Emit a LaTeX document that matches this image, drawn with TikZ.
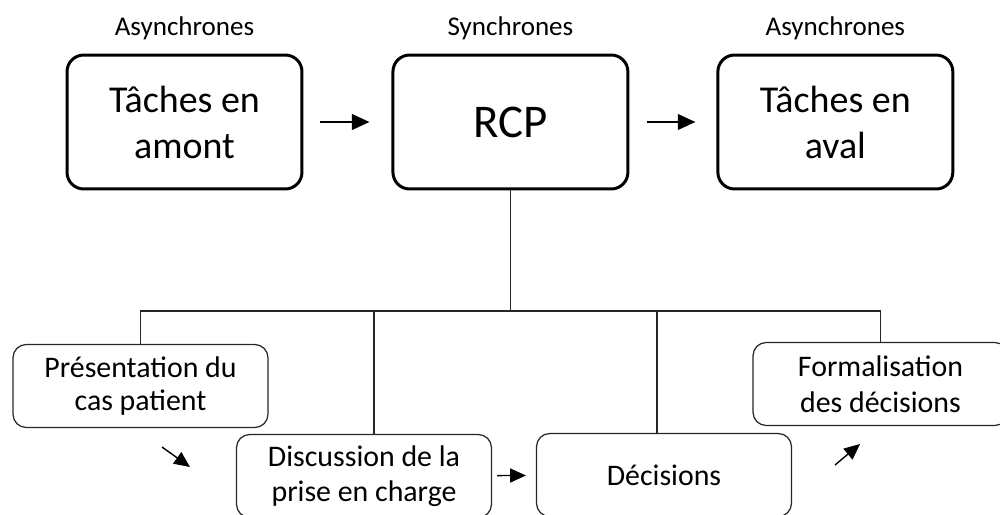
\documentclass[tikz,border=0pt]{standalone}
\usepackage{fontspec}
\setmainfont{Carlito}
\usetikzlibrary{positioning, arrows.meta}

\tikzset{
  topbox/.style={draw, line width=1.7pt, rounded corners=9.5pt, minimum width=4.7cm,
    minimum height=2.68cm, align=center, font=\fontsize{21.6}{26.2}\selectfont},
  subbox/.style={draw, black!85, text=black, line width=0.7pt, rounded corners=7.5pt,
    minimum width=5.1cm, minimum height=1.66cm, align=center, font=\fontsize{17}{19}\selectfont},
  lab/.style={font=\fontsize{15.4}{18}\selectfont},
  link/.style={black!85, line width=0.6pt},
  go/.style={-{Triangle[length=10pt,width=9pt]}, line width=0.8pt},
  small/.style={-{Triangle[length=9pt,width=8pt]}, line width=0.8pt}
}

\begin{document}
\begin{tikzpicture}[x=0.02cm, y=-0.02cm, node distance=1.76cm]
    \useasboundingbox (0,0) rectangle (1000,514);

    %the three phases
    \node[topbox] (amont) at (184.5,122) {Tâches en\\amont};
    \node[topbox, font=\fontsize{26.7}{30}\selectfont] (rcp) [right=of amont] {RCP};
    \node[topbox] (aval) [right=1.74cm of rcp] {Tâches en\\aval};

    %their labels
    \node[lab, above=10.2pt of amont, anchor=base] (l1) {Asynchrones};
    \node[lab, above=10.2pt of rcp, anchor=base] (l2) {Synchrones};
    \node[lab, above=10.2pt of aval, anchor=base] (l3) {Asynchrones};

    %the steps of the meeting
    \node[subbox] (pres) at (140.5,386) {Présentation du\\cas patient};
    \node[subbox, font=\fontsize{17}{20}\selectfont] (disc) at (364,476) {Discussion de la\\prise en charge};
    \node[subbox] (dec) at (664,475) {Décisions};
    \node[subbox, font=\fontsize{17}{20.3}\selectfont] (form) at (880.5,384) {Formalisation\\des décisions};

    %the tree
    \coordinate (bus) at (rcp.south |- 0,311);
    \draw[link] (rcp.south) -- (bus);
    \draw[link] (pres.north) |- (bus) -| (form.north);
    \draw[link] ([xshift=0.2cm]disc.north) -- ([xshift=0.2cm]disc.north |- bus);
    \draw[link] ([xshift=-0.14cm]dec.north) -- ([xshift=-0.14cm]dec.north |- bus);

    %the links
    \draw[go, shorten <=0.34cm, shorten >=0.44cm] (amont) -- (rcp);
    \draw[go, shorten <=0.36cm, shorten >=0.42cm] (rcp) -- (aval);
    \coordinate (s1) at (162,447);
    \coordinate (e1) at (190,467);
    \coordinate (s3) at (835,465);
    \coordinate (e3) at (860,444);
    \draw[small] (s1) -- (e1);
    \draw[small, shorten <=0.1cm, shorten >=0.2cm] (disc) -- (dec);
    \draw[small] (s3) -- (e3);
\end{tikzpicture}
\end{document}
